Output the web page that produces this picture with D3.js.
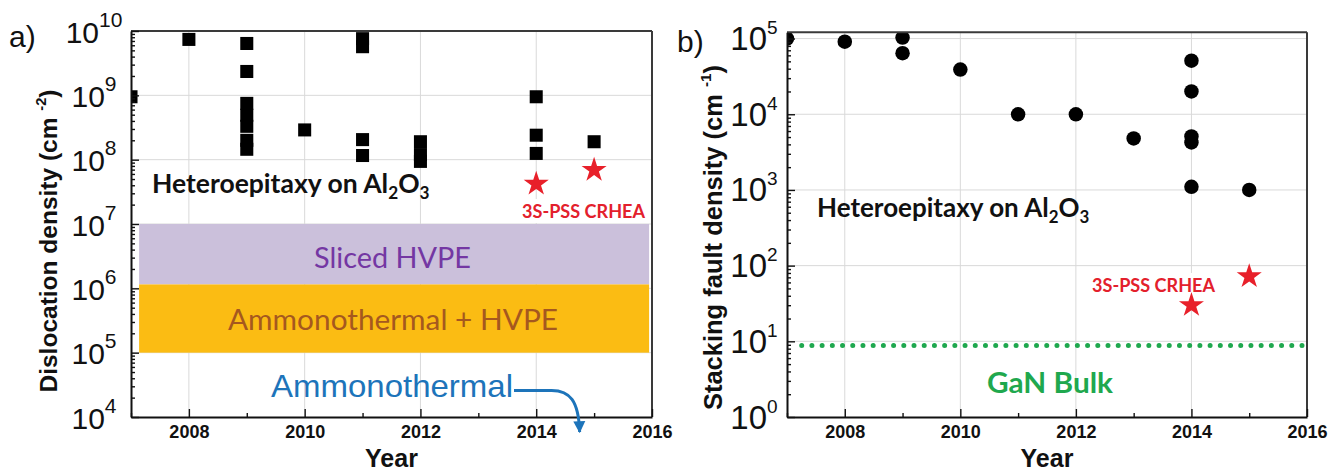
<!DOCTYPE html>
<html><head><meta charset="utf-8">
<script src="https://cdn.jsdelivr.net/npm/d3@7"></script>
<style>body{margin:0;background:#fff;} svg{display:block;}</style>
</head><body><svg id="c" width="1343" height="473"></svg>
<script>
// ---------- data ----------
const yearMajorTicks = [2008, 2010, 2012, 2014, 2016];
const yearMinorTicks = [2007, 2009, 2011, 2013, 2015];
const gridYears = [2008, 2010, 2012, 2014];

// panel a : dislocation density (cm^-2)
const dislocYears  = [2007, 2008, 2009, 2009, 2009, 2009, 2009, 2009, 2009, 2010, 2011, 2011, 2011, 2011, 2012, 2012, 2012, 2014, 2014, 2014, 2015];
const dislocValues = [9.5e8, 7.4e9, 6.4e9, 2.35e9, 7.5e8, 4.9e8, 3.3e8, 2.0e8, 1.45e8, 2.9e8, 7.6e9, 5.7e9, 2.05e8, 1.16e8, 1.9e8, 1.2e8, 9.4e7, 9.5e8, 2.4e8, 1.25e8, 1.9e8];
const crheaDislocYears  = [2014, 2015];
const crheaDislocValues = [4.2e7, 6.9e7];
const dislocDecades = [4, 5, 6, 7, 8, 9, 10];
const bandSliced = [1.15e6, 1e7];
const bandAmmonoHVPE = [1e5, 1.15e6];
const bandYears = [2007.14, 2015.95];

// panel b : stacking fault density (cm^-1)
const sfYears  = [2007, 2008, 2009, 2009, 2010, 2011, 2012, 2013, 2014, 2014, 2014, 2014, 2014, 2015];
const sfValues = [1e5, 9.1e4, 1.03e5, 6.4e4, 3.9e4, 1e4, 1e4, 4.8e3, 5.1e4, 2e4, 5.1e3, 4.25e3, 1.1e3, 1e3];
const crheaSfYears  = [2014, 2015];
const crheaSfValues = [30, 72];
const sfDecades = [0, 1, 2, 3, 4, 5];
const ganBulkSF = 8.8;

// ---------- drawing ----------
const svg = d3.select('#c');
const defs = svg.append('defs');
const ARIAL = "'Liberation Sans', Arial, sans-serif";
const CAL = "Lato, 'Open Sans', sans-serif";

function panel(cfg) {
  const x = d3.scaleLinear().domain([2007, 2016]).range([cfg.left, cfg.right]);
  const y = d3.scaleLog().domain(cfg.yDomain).range([cfg.bottom, cfg.top]);
  const g = svg.append('g');
  const grid = g.append('g').attr('stroke', '#d9d9d9').attr('stroke-width', 1);
  grid.selectAll('line.v').data(gridYears).join('line').attr('class', 'v')
    .attr('x1', d => x(d)).attr('x2', d => x(d)).attr('y1', cfg.top).attr('y2', cfg.bottom);
  const decVals = cfg.decades.map(e => Math.pow(10, e));
  grid.selectAll('line.h').data(decVals.filter(v => y(v) > cfg.top + 1 && y(v) < cfg.bottom - 1)).join('line').attr('class', 'h')
    .attr('x1', cfg.left).attr('x2', cfg.right).attr('y1', d => y(d)).attr('y2', d => y(d));
  const content = g.append('g');
  defs.append('clipPath').attr('id', cfg.id + 'clip').append('rect')
    .attr('x', cfg.left).attr('y', cfg.top).attr('width', cfg.right - cfg.left).attr('height', cfg.bottom - cfg.top);
  const marks = g.append('g').attr('clip-path', `url(#${cfg.id}clip)`);
  const axes = g.append('g');
  axes.append('line').attr('x1', cfg.left).attr('x2', cfg.right).attr('y1', cfg.top).attr('y2', cfg.top).attr('stroke', '#3a3a3a').attr('stroke-width', 2);
  axes.append('line').attr('x1', cfg.right).attr('x2', cfg.right).attr('y1', cfg.top).attr('y2', cfg.bottom).attr('stroke', '#3a3a3a').attr('stroke-width', 2);
  const xa = axes.append('g').attr('transform', `translate(0,${cfg.bottom})`)
    .call(d3.axisBottom(x).tickValues(yearMajorTicks).tickSizeInner(-8).tickSizeOuter(0).tickPadding(8).tickFormat(d3.format('d')));
  const xm = axes.append('g').attr('transform', `translate(0,${cfg.bottom})`)
    .call(d3.axisBottom(x).tickValues(yearMinorTicks).tickSizeInner(-4).tickSizeOuter(0).tickFormat(''));
  xm.select('.domain').remove();
  xa.selectAll('text').attr('font-family', ARIAL).attr('font-weight', 'bold').attr('font-size', 18).attr('fill', '#111');
  const minor = [];
  cfg.decades.forEach(e => { for (let k = 2; k <= 9; k++) { const v = k * Math.pow(10, e); if (v < cfg.yDomain[1]) minor.push(v); } });
  axes.append('g').attr('transform', `translate(${cfg.left},0)`)
    .call(d3.axisLeft(y).tickValues(decVals).tickSizeInner(-8).tickSizeOuter(0).tickFormat(''));
  const ym = axes.append('g').attr('transform', `translate(${cfg.left},0)`)
    .call(d3.axisLeft(y).tickValues(minor).tickSizeInner(-4).tickSizeOuter(0).tickFormat(''));
  ym.select('.domain').remove();
  axes.selectAll('.domain').attr('stroke', '#111').attr('stroke-width', 2);
  axes.selectAll('.tick line').attr('stroke', '#111').attr('stroke-width', 1.4);
  const lab = axes.append('g').attr('font-family', ARIAL).attr('fill', '#111').attr('text-anchor', 'middle');
  cfg.decades.forEach(e => {
    const t = lab.append('text').attr('x', cfg.left - cfg.labOff).attr('y', y(Math.pow(10, e)) + 11.5);
    t.append('tspan').attr('font-size', cfg.baseSize).text('10');
    t.append('tspan').attr('font-size', cfg.supSize).attr('dy', -16).text(String(e));
  });
  g.append('text').attr('x', (cfg.left + cfg.right) / 2).attr('y', 467).attr('text-anchor', 'middle')
    .attr('font-family', ARIAL).attr('font-weight', 'bold').attr('font-size', 25).attr('fill', '#111').text('Year');
  const yt = g.append('text').attr('transform', `translate(${cfg.titleX},${cfg.titleCy}) rotate(-90)`)
    .attr('text-anchor', 'middle').attr('font-family', ARIAL).attr('font-weight', 'bold').attr('font-size', cfg.titleSize).attr('fill', '#111');
  yt.append('tspan').text(cfg.title + ' (cm ');
  yt.append('tspan').attr('font-size', cfg.titleSize * 0.6).attr('dy', -cfg.titleSize * 0.45).text(cfg.unitExp);
  yt.append('tspan').attr('dy', cfg.titleSize * 0.45).text(')');
  g.append('text').attr('x', cfg.letterX).attr('y', cfg.letterY).attr('font-family', ARIAL).attr('font-size', 30).attr('fill', '#111').text(cfg.letter);
  return { x, y, g, content, marks, axes };
}

function hetero(g, xPos, yBase, size) {
  const sub = size * 0.65;
  const t = g.append('text').attr('x', xPos).attr('y', yBase).attr('font-family', CAL).attr('font-weight', 'bold').attr('font-size', size).attr('fill', '#111');
  t.append('tspan').text('Heteroepitaxy on Al');
  t.append('tspan').attr('font-size', sub).attr('dy', 6).text('2');
  t.append('tspan').attr('dy', -6).text('O');
  t.append('tspan').attr('font-size', sub).attr('dy', 6).text('3');
}

function crheaLabel(g, xPos, yBase) {
  g.append('rect').attr('x', xPos - 3).attr('y', yBase - 19).attr('width', 129).attr('height', 24).attr('fill', '#fff');
  g.append('text').attr('x', xPos).attr('y', yBase).attr('font-family', CAL).attr('font-weight', 'bold').attr('font-size', 19)
    .attr('textLength', 123).attr('lengthAdjust', 'spacingAndGlyphs').attr('fill', '#E3202C').text('3S-PSS CRHEA');
}

const RED = '#E8202A';

// ----- panel a -----
const A = panel({ id: 'a', left: 131, right: 652, top: 31, bottom: 417, yDomain: [1e4, 1e10], decades: dislocDecades,
  labOff: 37, baseSize: 30, supSize: 21, titleX: 57, titleCy: 241, titleSize: 24.5, title: 'Dislocation density', unitExp: '-2',
  letter: 'a)', letterX: 9, letterY: 47 });

A.content.append('rect').attr('x', A.x(bandYears[0])).attr('width', A.x(bandYears[1]) - A.x(bandYears[0]))
  .attr('y', A.y(bandSliced[1])).attr('height', A.y(bandSliced[0]) - A.y(bandSliced[1])).attr('fill', '#CBC0DB');
A.content.append('rect').attr('x', A.x(bandYears[0])).attr('width', A.x(bandYears[1]) - A.x(bandYears[0]))
  .attr('y', A.y(bandAmmonoHVPE[1])).attr('height', A.y(bandAmmonoHVPE[0]) - A.y(bandAmmonoHVPE[1])).attr('fill', '#FBBC13');
A.content.append('text').attr('x', 392.5).attr('y', 268).attr('text-anchor', 'middle').attr('font-family', CAL).attr('font-size', 29)
  .attr('textLength', 157).attr('lengthAdjust', 'spacingAndGlyphs').attr('fill', '#7437A3').text('Sliced HVPE');
A.content.append('text').attr('x', 393).attr('y', 330).attr('text-anchor', 'middle').attr('font-family', CAL).attr('font-size', 29)
  .attr('textLength', 330).attr('lengthAdjust', 'spacingAndGlyphs').attr('fill', '#A5581F').text('Ammonothermal + HVPE');

hetero(A.content, 152, 193, 26.5);
crheaLabel(A.content, 522, 218);

A.marks.selectAll('path.sq').data(dislocYears.map((d, i) => [d, dislocValues[i]])).join('path').attr('class', 'sq')
  .attr('d', d3.symbol(d3.symbolSquare, 170)).attr('transform', d => `translate(${A.x(d[0])},${A.y(d[1])})`).attr('fill', '#000');
A.g.selectAll('path.st').data(crheaDislocYears.map((d, i) => [d, crheaDislocValues[i]])).join('path').attr('class', 'st')
  .attr('d', d3.symbol(d3.symbolStar, 195)).attr('transform', d => `translate(${A.x(d[0])},${A.y(d[1])})`).attr('fill', RED);

A.g.append('text').attr('x', 271).attr('y', 397).attr('font-family', ARIAL).attr('font-size', 32)
  .attr('textLength', 242).attr('lengthAdjust', 'spacingAndGlyphs').attr('fill', '#1D74BA').text('Ammonothermal');
defs.append('marker').attr('id', 'arrB').attr('viewBox', '0 0 10 10').attr('refX', 9).attr('refY', 5)
  .attr('markerUnits', 'userSpaceOnUse').attr('markerWidth', 12).attr('markerHeight', 13).attr('orient', 'auto')
  .append('path').attr('d', 'M0,0 L10,5 L0,10 Z').attr('fill', '#1D74BA');
const ax0 = 271 + 242 + 1, ay0 = 390.5, tipX = A.x(2014.75), tipY = 432;
A.g.append('path').attr('d', `M${ax0},${ay0} L${tipX - 28},${ay0} C${tipX - 10},${ay0} ${tipX - 1},${ay0 + 10} ${tipX},${tipY}`)
  .attr('fill', 'none').attr('stroke', '#1D74BA').attr('stroke-width', 3).attr('marker-end', 'url(#arrB)');

// ----- panel b -----
const B = panel({ id: 'b', left: 787, right: 1307, top: 32.3, bottom: 417, yDomain: [1, 1.21e5], decades: sfDecades,
  labOff: 33, baseSize: 33, supSize: 19, titleX: 722, titleCy: 237.5, titleSize: 25.5, title: 'Stacking fault density', unitExp: '-1',
  letter: 'b)', letterX: 677, letterY: 52 });

hetero(B.content, 817, 217, 26);
crheaLabel(B.content, 1092, 292);
B.content.append('line').attr('x1', 801.7).attr('x2', 1302).attr('y1', B.y(ganBulkSF)).attr('y2', B.y(ganBulkSF))
  .attr('stroke', '#1FA84E').attr('stroke-width', 5).attr('stroke-linecap', 'round').attr('stroke-dasharray', '0 10.21');
B.content.append('text').attr('x', 987).attr('y', 393).attr('font-family', CAL).attr('font-weight', 'bold').attr('font-size', 29)
  .attr('textLength', 126).attr('lengthAdjust', 'spacingAndGlyphs').attr('fill', '#1FA84E').text('GaN Bulk');

B.marks.selectAll('path.ci').data(sfYears.map((d, i) => [d, sfValues[i]])).join('path').attr('class', 'ci')
  .attr('d', d3.symbol(d3.symbolCircle, 165)).attr('transform', d => `translate(${B.x(d[0])},${B.y(d[1])})`).attr('fill', '#000');
B.g.selectAll('path.st').data(crheaSfYears.map((d, i) => [d, crheaSfValues[i]])).join('path').attr('class', 'st')
  .attr('d', d3.symbol(d3.symbolStar, 195)).attr('transform', d => `translate(${B.x(d[0])},${B.y(d[1])})`).attr('fill', RED);
</script></body></html>
